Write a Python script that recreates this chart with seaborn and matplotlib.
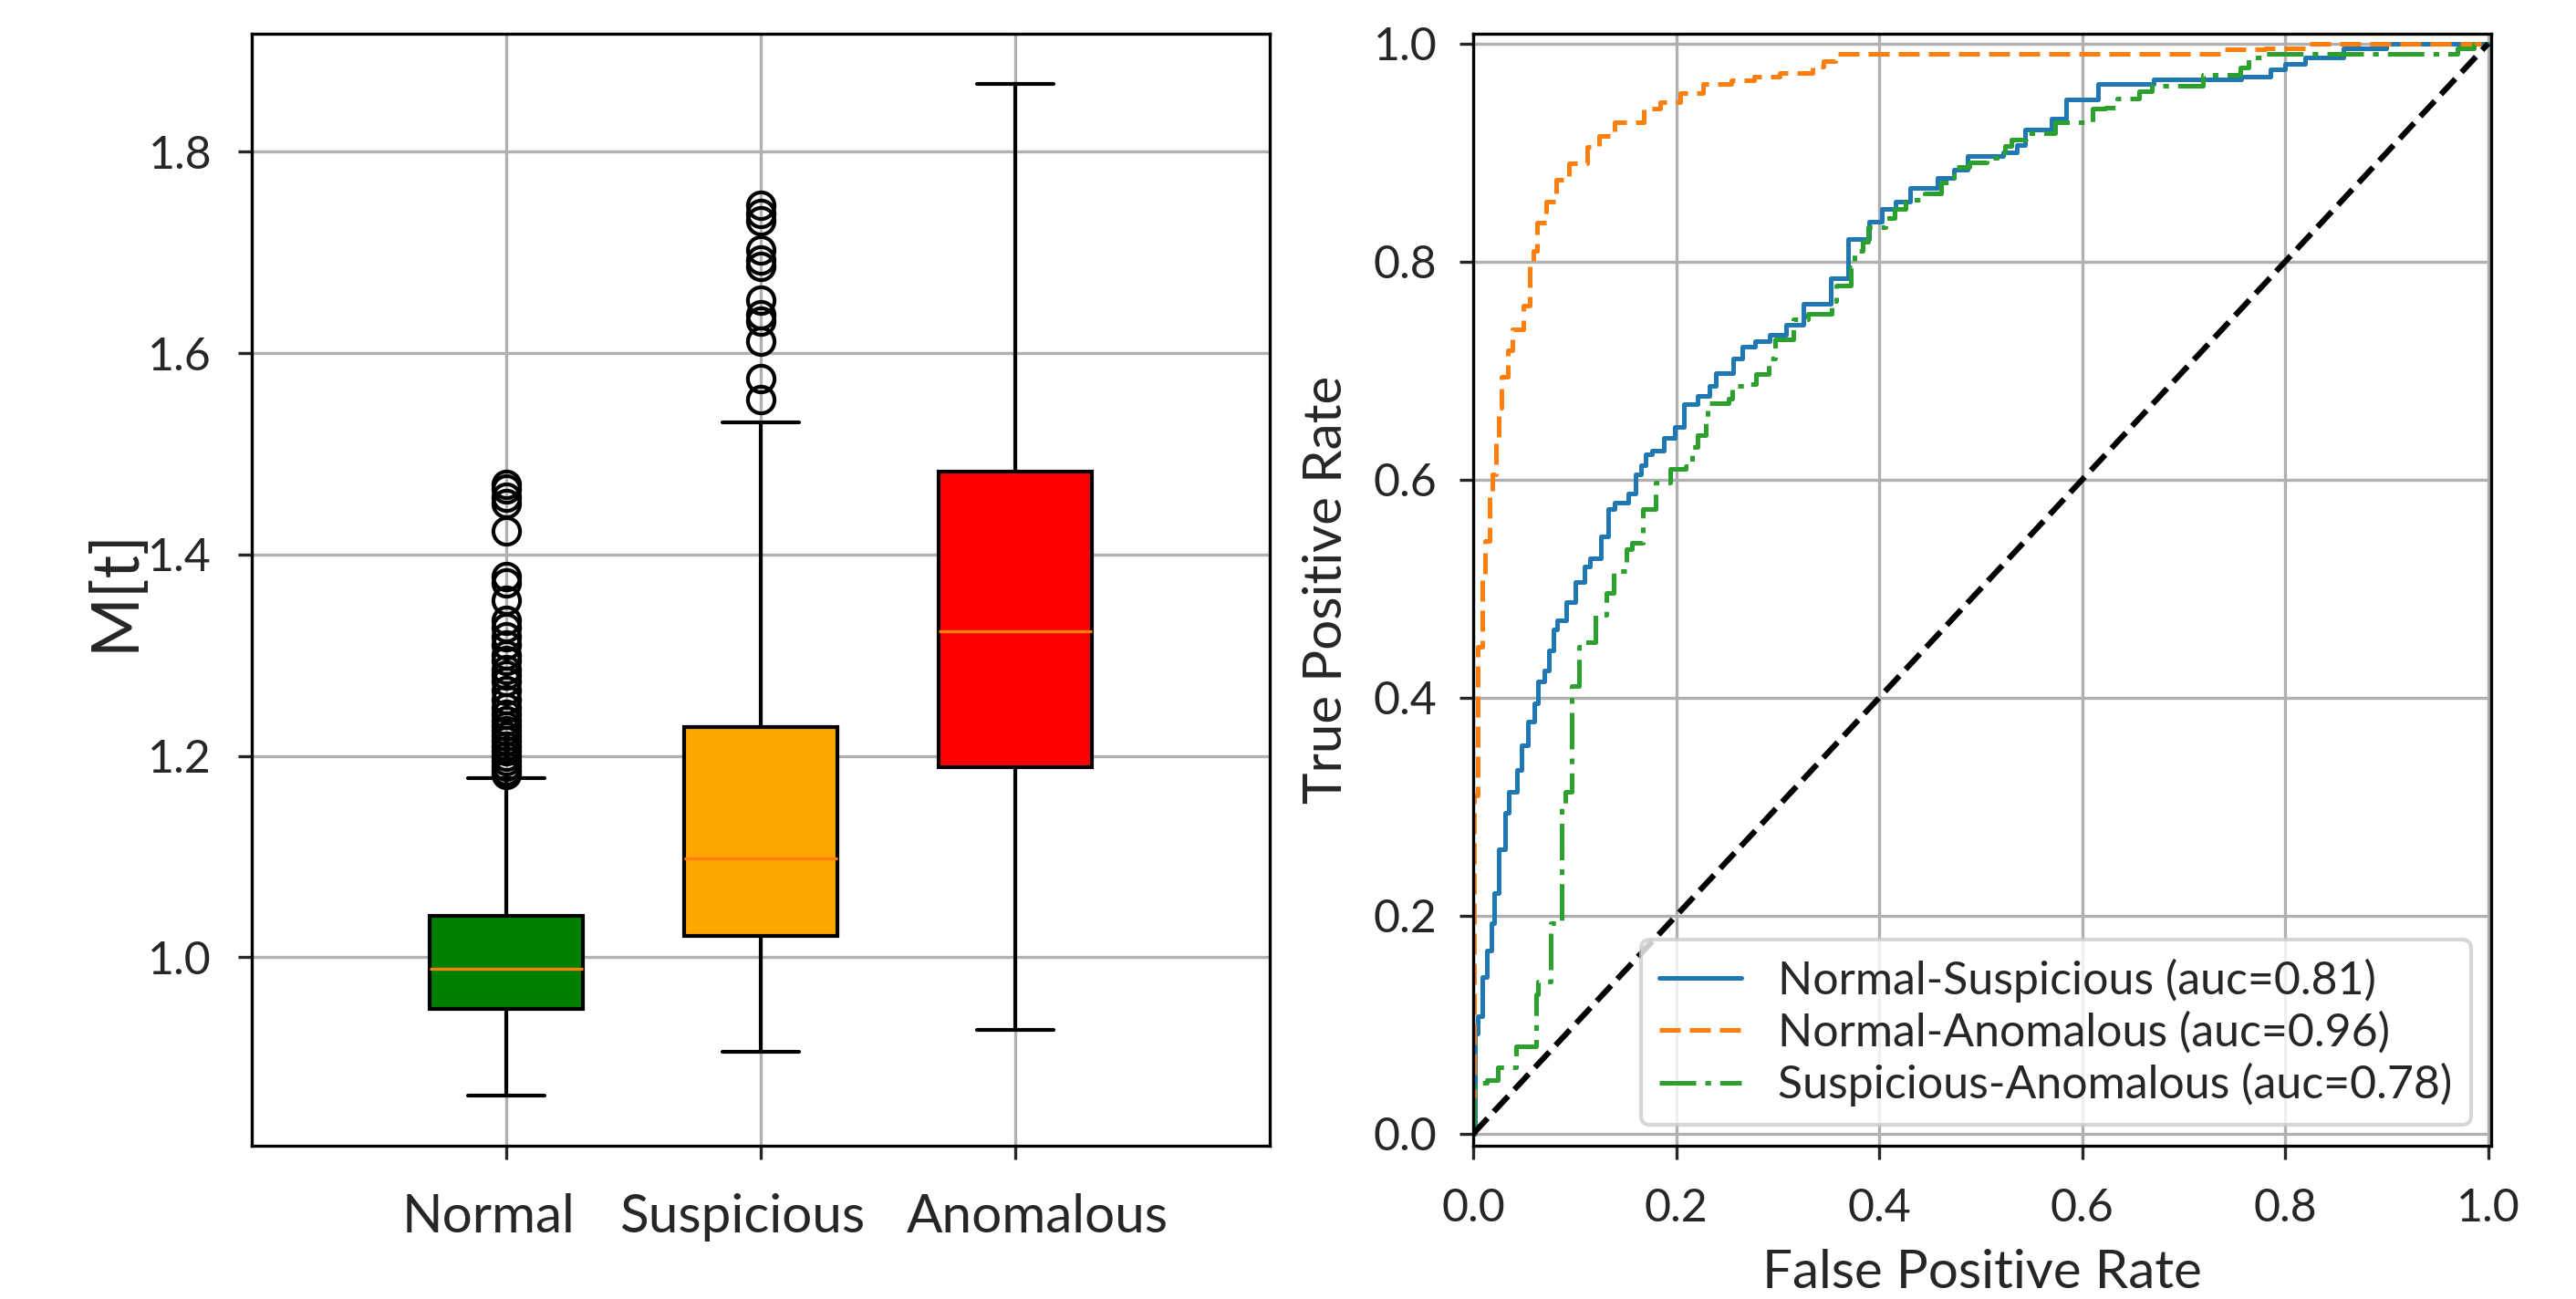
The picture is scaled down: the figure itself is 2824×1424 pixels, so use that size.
import numpy as np
import pandas as pd
import matplotlib
matplotlib.use("Agg")
import matplotlib.pyplot as plt
import matplotlib.transforms as mtransforms
import seaborn as sns

# Box plot summary stats
groups = ["Normal", "Suspicious", "Anomalous"]
box_colors = ["green", "orange", "red"]
q1 = [0.949, 1.021, 1.189]
med = [0.989, 1.098, 1.324]
q3 = [1.041, 1.229, 1.482]
whis_lo = [0.863, 0.906, 0.928]
whis_hi = [1.178, 1.531, 1.867]
fliers_normal = [1.470, 1.465, 1.457, 1.451, 1.423, 1.378, 1.372, 1.355, 1.335,
                 1.327, 1.318, 1.310, 1.300, 1.295, 1.286, 1.280, 1.274, 1.265,
                 1.256, 1.248, 1.241, 1.235, 1.230, 1.225, 1.220, 1.215, 1.210,
                 1.205, 1.200, 1.195, 1.190, 1.185, 1.182]
fliers_susp = [1.747, 1.739, 1.731, 1.702, 1.692, 1.686, 1.653, 1.638, 1.632,
               1.612, 1.575, 1.554]
fliers_anom = []

# ROC curves: plateau left edge (fpr) and tpr level
fpr_ns = [0.000, 0.002, 0.0045, 0.009, 0.0134, 0.018, 0.021, 0.025, 0.031, 0.035,
          0.043, 0.048, 0.054, 0.060, 0.064, 0.070, 0.075, 0.079, 0.083, 0.092,
          0.101, 0.110, 0.115, 0.126, 0.133, 0.139, 0.153, 0.160, 0.165, 0.170,
          0.176, 0.188, 0.199, 0.208, 0.221, 0.233, 0.239, 0.256, 0.265, 0.278,
          0.292, 0.308, 0.325, 0.352, 0.369, 0.390, 0.403, 0.416, 0.430, 0.457,
          0.474, 0.487, 0.522, 0.536, 0.544, 0.570, 0.584, 0.616, 0.670, 0.757,
          0.785, 0.800, 0.820, 0.857, 0.900, 1.000]
tpr_ns = [0.000, 0.092, 0.108, 0.144, 0.168, 0.193, 0.221, 0.261, 0.294, 0.314,
          0.334, 0.356, 0.378, 0.395, 0.415, 0.425, 0.443, 0.463, 0.471, 0.488,
          0.506, 0.520, 0.528, 0.548, 0.573, 0.579, 0.587, 0.605, 0.613, 0.623,
          0.627, 0.638, 0.648, 0.669, 0.677, 0.686, 0.698, 0.711, 0.722, 0.727,
          0.733, 0.742, 0.761, 0.785, 0.821, 0.837, 0.848, 0.855, 0.868, 0.877,
          0.884, 0.897, 0.900, 0.907, 0.921, 0.931, 0.949, 0.963, 0.967, 0.970,
          0.976, 0.981, 0.987, 0.996, 1.000, 1.000]

fpr_na = [0.000, 0.001, 0.0045, 0.009, 0.012, 0.016, 0.019, 0.022, 0.025, 0.028,
          0.034, 0.039, 0.049, 0.056, 0.059, 0.063, 0.072, 0.082, 0.094, 0.112,
          0.124, 0.139, 0.168, 0.184, 0.204, 0.226, 0.254, 0.277, 0.302, 0.334,
          0.345, 0.357, 0.740, 0.780, 0.822, 1.000]
tpr_na = [0.000, 0.310, 0.447, 0.512, 0.544, 0.589, 0.605, 0.638, 0.666, 0.694,
          0.719, 0.738, 0.760, 0.800, 0.810, 0.836, 0.855, 0.875, 0.890, 0.905,
          0.915, 0.928, 0.940, 0.946, 0.955, 0.963, 0.966, 0.970, 0.973, 0.979,
          0.984, 0.991, 0.995, 0.996, 1.000, 1.000]

fpr_sa = [0.000, 0.001, 0.013, 0.024, 0.042, 0.062, 0.064, 0.076, 0.087, 0.091,
          0.097, 0.104, 0.110, 0.120, 0.131, 0.138, 0.151, 0.156, 0.167, 0.180,
          0.194, 0.209, 0.216, 0.221, 0.229, 0.231, 0.252, 0.255, 0.268, 0.279,
          0.291, 0.297, 0.315, 0.330, 0.353, 0.358, 0.372, 0.376, 0.384, 0.389,
          0.406, 0.415, 0.426, 0.445, 0.461, 0.474, 0.489, 0.506, 0.524, 0.530,
          0.545, 0.573, 0.610, 0.623, 0.634, 0.656, 0.669, 0.719, 0.756, 0.764,
          0.780, 0.970, 0.986, 1.000]
tpr_sa = [0.000, 0.047, 0.049, 0.061, 0.080, 0.128, 0.140, 0.193, 0.302, 0.314,
          0.411, 0.447, 0.451, 0.476, 0.496, 0.516, 0.536, 0.542, 0.573, 0.597,
          0.610, 0.612, 0.630, 0.641, 0.652, 0.670, 0.674, 0.686, 0.688, 0.697,
          0.711, 0.729, 0.747, 0.752, 0.764, 0.778, 0.795, 0.810, 0.818, 0.832,
          0.840, 0.848, 0.857, 0.863, 0.873, 0.887, 0.891, 0.895, 0.906, 0.912,
          0.918, 0.928, 0.940, 0.941, 0.950, 0.956, 0.961, 0.971, 0.978, 0.987,
          0.991, 0.996, 1.000, 1.000]

roc_labels = ["Normal-Suspicious (auc=0.81)", "Normal-Anomalous (auc=0.96)",
              "Suspicious-Anomalous (auc=0.78)"]
diag = [0.0, 1.0]

sns.set_style("whitegrid", {
    "axes.edgecolor": "black",
    "grid.color": "#b0b0b0",
    "xtick.bottom": True,
    "ytick.left": True,
})
plt.rcParams["font.family"] = ["Lato", "DejaVu Sans"]
plt.rcParams["axes.linewidth"] = 0.8
plt.rcParams["grid.linewidth"] = 0.8

fig = plt.figure(figsize=(2824 / 300, 1424 / 300), dpi=300)
ax1 = fig.add_axes([0.0977, 0.118, 0.3952, 0.856])
ax2 = fig.add_axes([0.5719, 0.118, 0.3952, 0.856])

# Left: box plot from summary stats
all_fliers = [fliers_normal, fliers_susp, fliers_anom]
stats = []
for i, g in enumerate(groups):
    stats.append({"label": g, "med": med[i], "q1": q1[i], "q3": q3[i],
                  "whislo": whis_lo[i], "whishi": whis_hi[i],
                  "fliers": np.array(all_fliers[i])})
bp = ax1.bxp(stats, positions=[1, 2, 3], widths=0.6, patch_artist=True,
             boxprops=dict(edgecolor="black", linewidth=1.0),
             medianprops=dict(color="#ff7f0e", linewidth=0.8),
             whiskerprops=dict(color="black", linewidth=1.0),
             capprops=dict(color="black", linewidth=1.0),
             flierprops=dict(marker="o", markerfacecolor="none",
                             markeredgecolor="black", markersize=7))
for patch, c in zip(bp["boxes"], box_colors):
    patch.set_facecolor(c)
ax1.set_xlim(0, 4)
ax1.set_ylim(0.813, 1.917)
ax1.set_yticks([1.0, 1.2, 1.4, 1.6, 1.8])
ax1.set_ylabel("M[t]", fontsize=17, labelpad=1)
ax1.tick_params(axis="y", labelsize=12, pad=7)
ax1.tick_params(axis="x", labelsize=14, pad=9)
ax1.grid(True)
# the category labels sit slightly off their ticks in the original
for lbl, dx in zip(ax1.get_xticklabels(), [-4.6, -5.0, 5.9]):
    off = mtransforms.ScaledTranslation(dx / 72, 0, fig.dpi_scale_trans)
    lbl.set_transform(lbl.get_transform() + off)

# Right: ROC curves
roc = [(fpr_ns, tpr_ns, "#1f77b4", "-"),
       (fpr_na, tpr_na, "#ff7f0e", (0, (4.6, 2.0))),
       (fpr_sa, tpr_sa, "#2ca02c", (0, (8.0, 2.0, 1.25, 2.0)))]
for (fx, ty, c, ls), lab in zip(roc, roc_labels):
    df = pd.DataFrame({"fpr": fx, "tpr": ty})
    sns.lineplot(data=df, x="fpr", y="tpr", ax=ax2, color=c, linestyle=ls,
                 drawstyle="steps-post", estimator=None, sort=False,
                 linewidth=1.2, label=lab)
ax2.plot(diag, diag, color="black", linestyle="--", linewidth=1.5)
ax2.set_xlim(0.0, 1.003)
ax2.set_ylim(-0.011, 1.009)
ax2.set_xticks([0.0, 0.2, 0.4, 0.6, 0.8, 1.0])
ax2.set_yticks([0.0, 0.2, 0.4, 0.6, 0.8, 1.0])
ax2.set_xlabel("False Positive Rate", fontsize=14, labelpad=5)
ax2.set_ylabel("True Positive Rate", fontsize=14, labelpad=6)
ax2.tick_params(axis="x", labelsize=12, pad=7.5)
ax2.tick_params(axis="y", labelsize=12, pad=6)
ax2.grid(True)
ax2.legend(loc="lower right", fontsize=12, labelspacing=0.2,
           handlelength=1.8, borderaxespad=0.45, framealpha=0.8)

fig.savefig("out.png", dpi=300)
